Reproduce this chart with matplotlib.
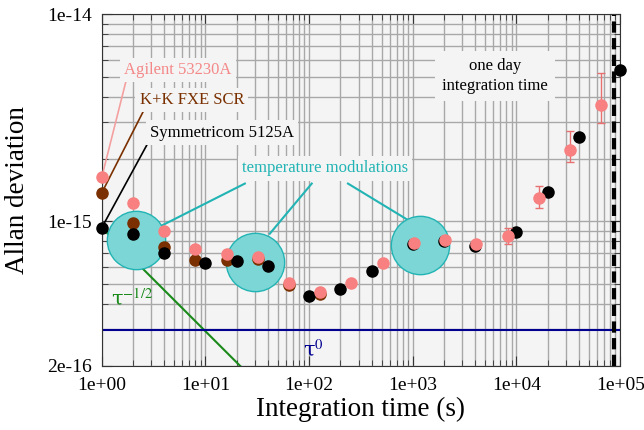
import numpy as np
import matplotlib
matplotlib.use("Agg")
import matplotlib.pyplot as plt
from matplotlib.ticker import FixedLocator, FuncFormatter

plt.rcParams['font.family'] = ['Liberation Serif', 'DejaVu Serif']
plt.rcParams['mathtext.fontset'] = 'stix'

# --- data ---
tau_sym = [1, 2, 4, 10, 20, 40, 100, 200, 400, 1000, 2000, 4000, 10000, 20000, 40000, 100000]
adev_sym = [9.3e-16, 8.7e-16, 7.05e-16, 6.25e-16, 6.44e-16, 6.05e-16, 4.36e-16, 4.7e-16,
            5.74e-16, 7.8e-16, 8.0e-16, 7.6e-16, 8.9e-16, 1.39e-15, 2.55e-15, 5.36e-15]

tau_kk = [1, 2, 4, 8, 16, 32, 64, 128]
adev_kk = [1.37e-15, 9.85e-16, 7.53e-16, 6.52e-16, 6.52e-16, 6.59e-16, 4.93e-16, 4.46e-16]

tau_ag = [1, 2, 4, 8, 16, 32, 64, 128, 256, 512, 1024, 2048, 4096, 8192, 16384, 32768, 65536]
adev_ag = [1.63e-15, 1.22e-15, 9.0e-16, 7.36e-16, 6.97e-16, 6.74e-16, 5.05e-16, 4.56e-16,
           5.02e-16, 6.28e-16, 7.81e-16, 8.14e-16, 7.76e-16, 8.45e-16, 1.30e-15, 2.22e-15, 3.63e-15]
err_lo = [0, 0, 0, 0, 0, 0, 0, 0, 0, 0, 0, 0, 0, 0.65e-16, 1.4e-16, 2.9e-16, 6.4e-16]
err_hi = [0, 0, 0, 0, 0, 0, 0, 0, 0, 0, 0, 0, 0, 0.85e-16, 1.8e-16, 5.0e-16, 15.5e-16]

one_day = 86400
flat_level = 2.98e-16
slope_ref = 9.3e-16

# temperature modulation markers
circ_tau = [2.13, 30.0, 1173]
circ_adev = [8.15e-16, 6.37e-16, 7.71e-16]

pink = '#f88080'
pink_txt = '#f48888'
brown = '#7a3000'
cyan = '#22b4b4'
cyan_fill = '#7dd6d6'

fig = plt.figure(figsize=(6.44, 4.3), dpi=100)
ax = fig.add_axes([0.158, 0.149, 0.805, 0.818])
ax.set_facecolor('#f4f4f4')
ax.set_xscale('log')
ax.set_yscale('log')
ax.set_xlim(1, 1e5)
ax.set_ylim(2e-16, 1e-14)

ax.grid(True, which='both', color='#a8a8a8', lw=1.0, zorder=0)
ax.set_axisbelow(True)

ax.yaxis.set_major_locator(FixedLocator([2e-16, 1e-15, 1e-14]))
minor_y = [m * 10.0**e for e in (-16, -15) for m in range(2, 10)]
ax.yaxis.set_minor_locator(FixedLocator(minor_y))
ax.yaxis.set_major_formatter(FuncFormatter(lambda v, p: '%.0e' % v))
ax.yaxis.set_minor_formatter(FuncFormatter(lambda v, p: ''))
ax.xaxis.set_major_formatter(FuncFormatter(lambda v, p: '%.0e' % v))
ax.tick_params(which='both', direction='in', top=True, right=True, labelsize=14, color='#333333')
ax.tick_params(which='major', length=7)
ax.tick_params(which='minor', length=4)
ax.tick_params(axis='x', which='major', pad=8)
ax.tick_params(axis='y', which='major', pad=7)
for s in ax.spines.values():
    s.set_color('#333333')

ax.set_xlabel('Integration time (s)', fontsize=19.5)
ax.set_ylabel('Allan deviation', fontsize=19.5)
ax.xaxis.set_label_coords(0.5, -0.088)
ax.yaxis.set_label_coords(-0.138, 0.5)

# reference slopes
t = np.array([1, 30])
ax.plot(t, slope_ref * t ** -0.5, color='#1a8a1a', lw=1.5, zorder=2)
ax.axhline(flat_level, color='#000090', lw=1.5, zorder=2)
ax.axvline(one_day, color='black', lw=3, dashes=(2.7, 1.3), zorder=2)

ax.text(1.95, 4.22e-16, 'τ$^{-1/2}$', color='#1a8a1a', fontsize=15, ha='center', va='center',
        family=['DejaVu Serif'])
ax.text(109, 2.41e-16, 'τ$^{0}$', color='#000090', fontsize=15, ha='center', va='center',
        family=['DejaVu Serif'])

# temperature modulation circles and pointers
tm_x, tm_y = 142, 1.8e-15
for x0, x1, y1 in [(24.0, 3.79, 9.53e-16), (106, 41.8, 8.71e-16), (237, 879, 1.02e-15)]:
    ax.plot([x0, x1], [1.52e-15, y1], color=cyan, lw=1.5, zorder=3)
ax.plot(circ_tau, circ_adev, 'o', ms=42, mfc=cyan_fill, mec=cyan, mew=1.0, ls='none', zorder=3)
ax.text(tm_x, tm_y, 'temperature modulations', color=cyan, fontsize=12, ha='center', va='center',
        bbox=dict(fc='#f4f4f4', ec='none', pad=3), zorder=6)

# data
ax.plot(tau_kk, adev_kk, 'o', color=brown, ms=8, ls='none', zorder=4, clip_on=False)
ax.plot(tau_sym, adev_sym, 'o', color='black', ms=8, ls='none', zorder=5, clip_on=False)
ax.errorbar(tau_ag, adev_ag, yerr=[err_lo, err_hi], fmt='o', color=pink, ecolor='#e87070',
            ms=8, elinewidth=1, capsize=3, zorder=6, clip_on=False)

# device labels with pointer lines
labels = [
    ('Agilent 53230A', pink_txt, 5.42, 5.36e-15, 1.74, 4.9e-15, tau_ag[0], adev_ag[0], '#f4a0a0'),
    ('K+K FXE SCR', brown, 7.39, 3.84e-15, 2.49, 3.36e-15, tau_kk[0], adev_kk[0], brown),
    ('Symmetricom 5125A', 'black', 14.4, 2.68e-15, 2.78, 2.38e-15, tau_sym[0], adev_sym[0], 'black'),
]
for txt, c, tx, ty, lx, ly, px, py, lc in labels:
    ax.plot([lx, px], [ly, py], color=lc, lw=1.2, zorder=3, clip_on=False)
    ax.text(tx, ty, txt, color=c, fontsize=12, ha='center', va='center',
            bbox=dict(fc='#f4f4f4', ec='none', pad=3), zorder=7)

ax.text(6210, 5.03e-15, 'one day\nintegration time', color='black', fontsize=12,
        ha='center', va='center', linespacing=1.4,
        bbox=dict(fc='#f4f4f4', ec='none', pad=5), zorder=7)

fig.savefig('out.png', dpi=100)
